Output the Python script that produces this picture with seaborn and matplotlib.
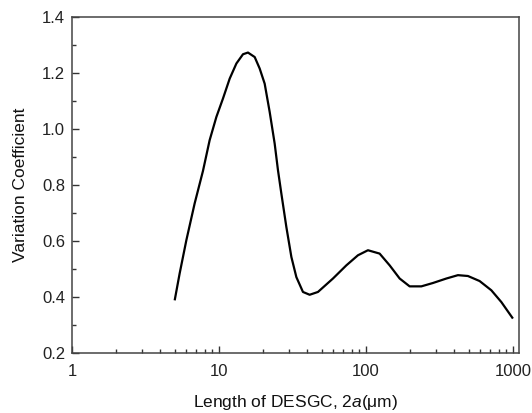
import matplotlib
matplotlib.use("Agg")
import matplotlib.pyplot as plt
import seaborn as sns
import pandas as pd
from matplotlib.ticker import LogLocator, MultipleLocator, FixedLocator, FixedFormatter, NullFormatter, FormatStrFormatter

length_um = [4.996, 5.40, 6.00, 6.83, 7.78, 8.64, 9.60, 10.65, 11.83, 13.14, 14.57, 15.75,
             17.50, 18.92, 20.46, 22.13, 23.93, 25.20, 26.58, 28.74, 31.09, 33.62, 37.28,
             41.40, 47.15, 59.65, 73.55, 88.22, 103.2, 123.9, 145.0, 169.6, 198.3, 238.2,
             285.6, 352.4, 422.6, 494.2, 593.5, 713.0, 834.0, 1000.0]
variation = [0.388, 0.484, 0.603, 0.734, 0.850, 0.960, 1.043, 1.109, 1.180, 1.234, 1.267, 1.273,
             1.257, 1.216, 1.162, 1.061, 0.948, 0.853, 0.769, 0.650, 0.543, 0.471, 0.418,
             0.408, 0.418, 0.466, 0.513, 0.549, 0.567, 0.555, 0.513, 0.466, 0.438, 0.438,
             0.450, 0.466, 0.478, 0.475, 0.457, 0.424, 0.382, 0.323]
x_ticks = [1, 10, 100, 1000]
x_tick_labels = ["1", "10", "100", "1000"]

sns.set_style("white")
plt.rcParams['font.family'] = ['Liberation Sans', 'DejaVu Sans']
plt.rcParams['mathtext.fontset'] = 'custom'
plt.rcParams['mathtext.it'] = 'Liberation Sans:italic'
plt.rcParams['mathtext.rm'] = 'Liberation Sans'

df = pd.DataFrame({"x": length_um, "y": variation})

fig = plt.figure(figsize=(5.32, 4.13), dpi=100)
ax = fig.add_axes([72/532, 1-353/413, (519-72)/532, (353-17)/413])
sns.lineplot(data=df, x="x", y="y", ax=ax, color="black", linewidth=1.6, sort=False,
             solid_joinstyle='round', solid_capstyle='butt')
ax.set_xscale("log")
ax.set_xlim(1, 1100)
ax.set_ylim(0.2, 1.4)
ax.xaxis.set_major_locator(FixedLocator(x_ticks))
ax.xaxis.set_major_formatter(FixedFormatter(x_tick_labels))
ax.xaxis.set_minor_locator(LogLocator(base=10, subs=range(2, 10)))
ax.xaxis.set_minor_formatter(NullFormatter())
ax.yaxis.set_major_locator(MultipleLocator(0.2))
ax.yaxis.set_minor_locator(MultipleLocator(0.1))
ax.yaxis.set_major_formatter(FormatStrFormatter('%.1f'))
ax.tick_params(which='both', direction='in', color='#333333', width=1.0,
               bottom=True, left=True, top=False, right=False)
ax.tick_params(which='major', length=5, labelsize=12, pad=5, labelcolor='#222222')
ax.tick_params(axis='x', which='major', pad=8)
ax.tick_params(which='minor', length=3)
for s in ax.spines.values():
    s.set_color('#444444')
    s.set_linewidth(1.1)
ax.set_xlabel("Length of DESGC, 2$a$(μm)", fontsize=12.5, labelpad=10, color='#111111')
ax.set_ylabel("Variation Coefficient", fontsize=12.5, labelpad=10, color='#111111')
fig.savefig("out.png", dpi=100)
